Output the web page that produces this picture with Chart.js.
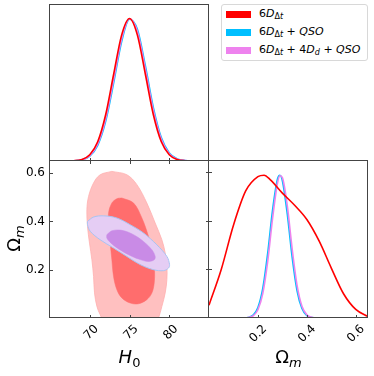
<!DOCTYPE html>
<html>
<head>
<meta charset="utf-8">
<script src="https://cdn.jsdelivr.net/npm/chart.js@4.4.1/dist/chart.umd.min.js"></script>
<style>
  body { margin: 0; background: #fff; width: 374px; height: 376px; overflow: hidden; position: relative; font-family: 'DejaVu Sans'; }
  canvas { position: absolute; }
  #legend { position: absolute; left: 221px; top: 4px; width: 145px; height: 55px; border: 1px solid #d8d8d8; border-radius: 3px; background: #fff; }
  .row { position: absolute; left: 0; height: 16px; line-height: 16px; font-size: 11px; white-space: nowrap; }
  .patch { position: absolute; left: 4px; top: 5px; width: 25px; height: 7px; }
  .txt { position: absolute; left: 37px; top: 0; }
  .txt sub { font-size: 8px; vertical-align: -2px; line-height: 0; }
</style>
</head>
<body>
<canvas id="pH0" style="left:0;top:0" width="212" height="164"></canvas>
<canvas id="p2d" style="left:0;top:158px" width="212" height="218"></canvas>
<canvas id="pOm" style="left:206px;top:158px" width="168" height="218"></canvas>
<div id="legend"></div>
<script>
// 1D posterior of H0 (normalised to peak)
const h0Grid = [65, 66, 67, 68, 69, 70, 71, 72, 73, 74, 75, 76, 77, 78, 79, 80, 81, 82, 83, 84, 85]
const h0Red = [0, 0, 0.0003, 0.002, 0.011, 0.044, 0.135, 0.325, 0.607, 0.882, 1.0, 0.882, 0.607, 0.325, 0.135, 0.044, 0.011, 0.002, 0.0003, 0, 0]
const h0Blue = [0, 0, 0.0002, 0.0015, 0.008, 0.034, 0.110, 0.278, 0.546, 0.835, 0.995, 0.923, 0.667, 0.375, 0.164, 0.056, 0.015, 0.003, 0.0005, 0, 0]
const h0Violet = [0, 0, 0.0003, 0.0018, 0.009, 0.038, 0.120, 0.296, 0.570, 0.855, 0.998, 0.908, 0.643, 0.355, 0.152, 0.051, 0.013, 0.003, 0.0004, 0, 0]

// 1D posterior of Omega_m
const omGridRed = [0, 0.05, 0.10, 0.15, 0.20, 0.225, 0.25, 0.30, 0.35, 0.40, 0.45, 0.50, 0.55, 0.60, 0.65]
const omRed = [0.09, 0.34, 0.65, 0.89, 0.99, 1.0, 0.97, 0.875, 0.79, 0.69, 0.54, 0.35, 0.17, 0.06, 0.01]
const omGridNarrow = [0.12, 0.14, 0.16, 0.18, 0.20, 0.22, 0.24, 0.26, 0.28, 0.29, 0.30, 0.32, 0.34, 0.36, 0.38, 0.40, 0.42, 0.44, 0.58]
const omBlue = [0, 0.0007, 0.004, 0.020, 0.074, 0.209, 0.454, 0.758, 0.974, 1.0, 0.961, 0.729, 0.425, 0.191, 0.066, 0.017, 0.0036, 0.0006, 0]
const omViolet = [0, 0.0005, 0.003, 0.015, 0.058, 0.173, 0.397, 0.699, 0.946, 0.997, 0.984, 0.787, 0.484, 0.229, 0.083, 0.023, 0.005, 0.0008, 0]

// 2D contours (H0, Omega_m), closed
const redOuterH0 = [72.78, 74.67, 75.93, 77.18, 78.23, 79.07, 79.49, 79.70, 79.70, 79.49, 79.07, 78.65, 78.0, 75.0, 72.0, 71.31, 70.9, 70.6, 70.48, 70.27, 69.97, 69.72, 69.64, 69.85, 70.48, 71.31, 72.78]
const redOuterOm = [0.607, 0.593, 0.552, 0.476, 0.393, 0.324, 0.269, 0.214, 0.159, 0.104, 0.048, 0.0, -0.05, -0.07, -0.03, 0.014, 0.048, 0.104, 0.172, 0.241, 0.31, 0.379, 0.448, 0.503, 0.559, 0.593, 0.607]
const redInnerH0 = [74.04, 75.51, 76.56, 77.39, 77.94, 78.15, 78.11, 77.81, 77.18, 76.14, 75.09, 74.04, 73.41, 72.99, 72.78, 72.57, 72.4, 72.36, 72.78, 73.41, 74.04]
const redInnerOm = [0.497, 0.476, 0.414, 0.338, 0.269, 0.2, 0.145, 0.103, 0.076, 0.059, 0.062, 0.083, 0.117, 0.172, 0.241, 0.31, 0.379, 0.434, 0.476, 0.494, 0.497]
const violetOuterH0 = [69.72, 70.48, 71.73, 73.41, 75.09, 76.76, 78.44, 79.70, 80.04, 79.91, 79.28, 78.02, 76.35, 74.67, 72.99, 71.31, 70.06, 69.72, 69.72]
const violetOuterOm = [0.4, 0.418, 0.423, 0.414, 0.386, 0.352, 0.303, 0.255, 0.221, 0.207, 0.196, 0.2, 0.221, 0.255, 0.29, 0.324, 0.359, 0.386, 0.4]
const violetInnerH0 = [72.15, 72.78, 74.04, 75.51, 76.76, 77.81, 78.23, 78.11, 77.39, 76.14, 74.88, 73.62, 72.57, 72.15, 72.15]
const violetInnerOm = [0.345, 0.361, 0.363, 0.345, 0.317, 0.283, 0.255, 0.241, 0.234, 0.244, 0.262, 0.286, 0.313, 0.331, 0.345]

const h0Ticks = [70, 75, 80]
const omTicks = [0.2, 0.4, 0.6]
const densityTicks = [0.34, 0.68, 1.02]

const legendLabels = [
  '6<i>D</i><sub>Δ<i>t</i></sub>',
  '6<i>D</i><sub>Δ<i>t</i></sub> + <i>QSO</i>',
  '6<i>D</i><sub>Δ<i>t</i></sub> + 4<i>D</i><sub><i>d</i></sub> + <i>QSO</i>',
]
const RED = '#ff0000'
const BLUE = '#00bfff'
const VIOLET = '#ee82ee'
const legendColors = [RED, BLUE, VIOLET]

const pts = (xs, ys) => xs.map((x, i) => ({ x, y: ys[i] }))
const FONT = 'DejaVu Sans'

// box round each panel + small ticks
const frame = {
  id: 'frame',
  afterDatasetsDraw(chart, args, opts) {
    const { ctx, chartArea: a, scales } = chart
    const px = (v) => Math.round(v) - 0.5
    ctx.save()
    ctx.strokeStyle = '#444'
    ctx.lineWidth = 1
    ctx.strokeRect(px(a.left), px(a.top), px(a.right) - px(a.left), px(a.bottom) - px(a.top))
    ctx.beginPath()
    for (const v of opts.xTicks || []) {
      const x = px(scales.x.getPixelForValue(v)) + 1
      ctx.moveTo(x, a.bottom - 3)
      ctx.lineTo(x, a.bottom + (opts.xOut || 0))
    }
    for (const v of opts.yTicks || []) {
      const y = px(scales.y.getPixelForValue(v)) + 1
      ctx.moveTo(a.left - (opts.yOut || 0), y)
      ctx.lineTo(a.left + 3, y)
    }
    ctx.stroke()
    ctx.restore()
  },
}

function drawParts(ctx, parts, cx, y) {
  let w = 0
  for (const p of parts) { ctx.font = p[1]; w += ctx.measureText(p[0]).width }
  let x = cx - w / 2
  for (const p of parts) {
    ctx.font = p[1]
    ctx.fillText(p[0], x, y + p[2])
    x += ctx.measureText(p[0]).width
  }
}

// axis titles with subscripts
const mathLabels = {
  id: 'mathLabels',
  afterDraw(chart, args, opts) {
    const { ctx, chartArea: a } = chart
    ctx.save()
    ctx.fillStyle = '#000'
    ctx.textBaseline = 'alphabetic'
    ctx.textAlign = 'left'
    if (opts.bottom) drawParts(ctx, opts.bottom, (a.left + a.right) / 2, a.bottom + 45)
    if (opts.left) {
      ctx.translate(20, (a.top + a.bottom) / 2 - 1)
      ctx.rotate(-Math.PI / 2)
      drawParts(ctx, opts.left, 0, 0)
    }
    ctx.restore()
  },
}

const H0_TITLE = [['H', `italic 18px "${FONT}"`, 0], ['0', `13px "${FONT}"`, 4]]
const OM_TITLE = [['Ω', `18px "${FONT}"`, 0], ['m', `italic 13px "${FONT}"`, 4]]

const baseOpts = {
  responsive: false,
  animation: false,
  events: [],
  elements: { point: { radius: 0 } },
}

const tickFont = { family: FONT, size: 12 }
const fixTicks = (vals) => (s) => { s.ticks = vals.map((v) => ({ value: v })) }
// keep chart area where the padding says, labels may overhang
const noPad = (s) => { s.paddingTop = 0; s.paddingBottom = 0; s.paddingLeft = 0; s.paddingRight = 0 }

// top-left: H0 1D
new Chart(document.getElementById('pH0'), {
  type: 'line',
  data: {
    datasets: [
      { data: pts(h0Grid, h0Red), borderColor: RED, borderWidth: 1.6, order: 1 },
      { data: pts(h0Grid, h0Blue), borderColor: BLUE, borderWidth: 1.6, order: 3 },
      { data: pts(h0Grid, h0Violet), borderColor: VIOLET, borderWidth: 1.6, order: 2 },
    ],
  },
  options: {
    ...baseOpts,
    cubicInterpolationMode: 'monotone',
    layout: { padding: { left: 50, right: 3, top: 5, bottom: 3 } },
    plugins: { legend: { display: false }, tooltip: { enabled: false }, frame: { xTicks: h0Ticks, xOut: 3 } },
    scales: {
      x: { type: 'linear', min: 65, max: 85, display: false },
      y: { type: 'linear', min: 0, max: 1.095, display: false },
    },
  },
  plugins: [frame],
})

// bottom-left: 2D contours
new Chart(document.getElementById('p2d'), {
  type: 'line',
  data: {
    datasets: [
      { data: pts(violetInnerH0, violetInnerOm), fill: 'shape', backgroundColor: '#c98be6', borderColor: '#c98be6', borderWidth: 0.5, order: 1 },
      { data: pts(violetOuterH0, violetOuterOm), fill: 'shape', backgroundColor: '#e5cdf4', borderColor: '#a9c4f2', borderWidth: 1, order: 2 },
      { data: pts(redInnerH0, redInnerOm), fill: 'shape', backgroundColor: '#ff6d6d', borderColor: '#ff6d6d', borderWidth: 0.5, order: 3 },
      { data: pts(redOuterH0, redOuterOm), fill: 'shape', backgroundColor: '#ffc0c0', borderColor: '#ffb0b0', borderWidth: 0.8, order: 4 },
    ],
  },
  options: {
    ...baseOpts,
    elements: { point: { radius: 0 }, line: { tension: 0.35 } },
    layout: { padding: { top: 3, right: 3 } },
    plugins: {
      legend: { display: false },
      tooltip: { enabled: false },
      frame: { xTicks: h0Ticks, yTicks: omTicks },
      mathLabels: { bottom: H0_TITLE, left: OM_TITLE },
    },
    scales: {
      x: {
        type: 'linear', min: 65, max: 85,
        afterBuildTicks: fixTicks(h0Ticks),
        afterFit: (s) => { s.height = 58; noPad(s) },
        grid: { display: false, drawTicks: false },
        border: { display: false },
        ticks: { autoSkip: false, minRotation: 45, maxRotation: 45, color: '#000', font: tickFont, padding: 4, labelOffset: 7, callback: (v) => String(v) },
      },
      y: {
        type: 'linear', min: 0, max: 0.65,
        afterBuildTicks: fixTicks(omTicks),
        afterFit: (s) => { s.width = 50; noPad(s) },
        grid: { display: false, drawTicks: false },
        border: { display: false },
        ticks: { color: '#000', font: tickFont, padding: 5, callback: (v) => String(v) },
      },
    },
  },
  plugins: [frame, mathLabels],
})

// bottom-right: Omega_m 1D
new Chart(document.getElementById('pOm'), {
  type: 'line',
  data: {
    datasets: [
      { data: pts(omGridRed, omRed), borderColor: RED, borderWidth: 1.6, order: 1 },
      { data: pts(omGridNarrow, omBlue), borderColor: BLUE, borderWidth: 1.6, order: 3 },
      { data: pts(omGridNarrow, omViolet), borderColor: VIOLET, borderWidth: 1.6, order: 2 },
    ],
  },
  options: {
    ...baseOpts,
    cubicInterpolationMode: 'monotone',
    layout: { padding: { top: 3, left: 3, right: 6 } },
    plugins: {
      legend: { display: false },
      tooltip: { enabled: false },
      frame: { xTicks: omTicks, yTicks: densityTicks, yOut: 3 },
      mathLabels: { bottom: OM_TITLE },
    },
    scales: {
      x: {
        type: 'linear', min: 0, max: 0.65,
        afterBuildTicks: fixTicks(omTicks),
        afterFit: (s) => { s.height = 58; noPad(s) },
        grid: { display: false, drawTicks: false },
        border: { display: false },
        ticks: { autoSkip: false, minRotation: 45, maxRotation: 45, color: '#000', font: tickFont, padding: 4, labelOffset: 7, callback: (v) => String(v) },
      },
      y: { type: 'linear', min: 0, max: 1.1, display: false },
    },
  },
  plugins: [frame, mathLabels],
})

// legend
const legend = document.getElementById('legend')
legendLabels.forEach((label, i) => {
  const row = document.createElement('div')
  row.className = 'row'
  row.style.top = (1 + i * 18) + 'px'
  row.innerHTML = `<div class="patch" style="background:${legendColors[i]}"></div><div class="txt">${label}</div>`
  legend.appendChild(row)
})
</script>
</body>
</html>
